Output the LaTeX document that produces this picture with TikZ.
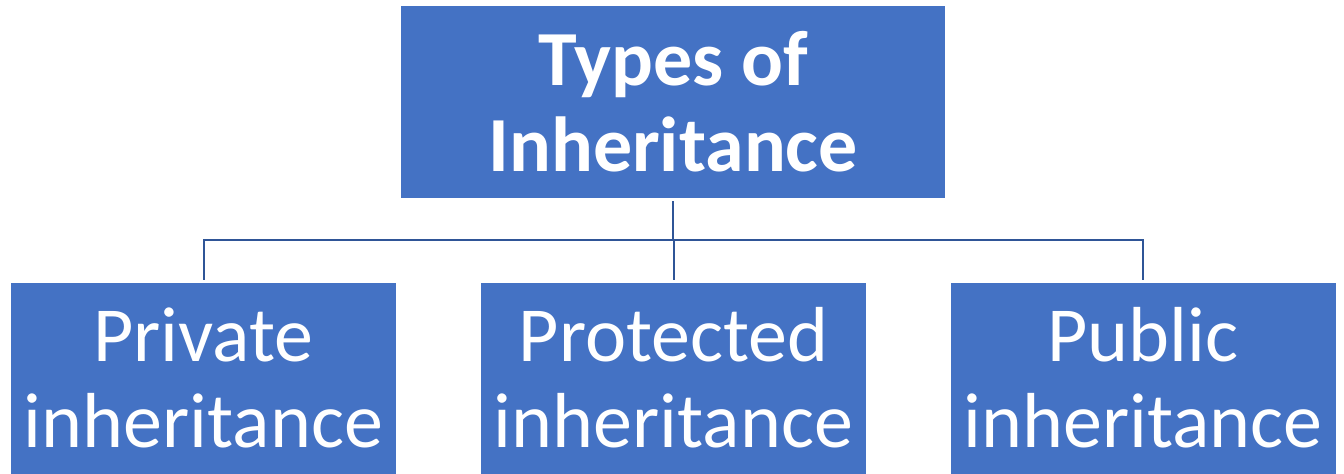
\documentclass[tikz,border=0pt]{standalone}
\usepackage{fontspec}
\setmainfont{Carlito}
\definecolor{boxblue}{HTML}{4472C4}
\definecolor{linkblue}{HTML}{2F5597}
\begin{document}
\begin{tikzpicture}[x=0.5pt,y=-0.5pt,
  box/.style={fill=boxblue,text=white,align=center,inner sep=0pt,
    minimum width=192.5pt,minimum height=95.5pt,
    font=\fontsize{39}{43}\selectfont},
  rootbox/.style={box,minimum width=272pt,minimum height=96pt,
    font=\fontsize{39}{43}\selectfont\bfseries},
  link/.style={draw=linkblue,line width=1pt}]
\useasboundingbox (0,0) rectangle (1344,473);
\node[rootbox] (root) at (673,102) {Types of\\Inheritance};
\node[box] (priv) at (203.5,378) {Private\\inheritance};
\node[box] (prot) at (673.5,378) {Protected\\inheritance};
\node[box] (pub) at (1143,378) {Public\\inheritance};
\coordinate (bus) at (673,240);
\draw[link,shorten <=1.5pt] (root) -- (bus);
\foreach \leaf in {priv,prot,pub}
  \draw[link,shorten >=1pt] (bus) -| (\leaf);
\end{tikzpicture}
\end{document}
